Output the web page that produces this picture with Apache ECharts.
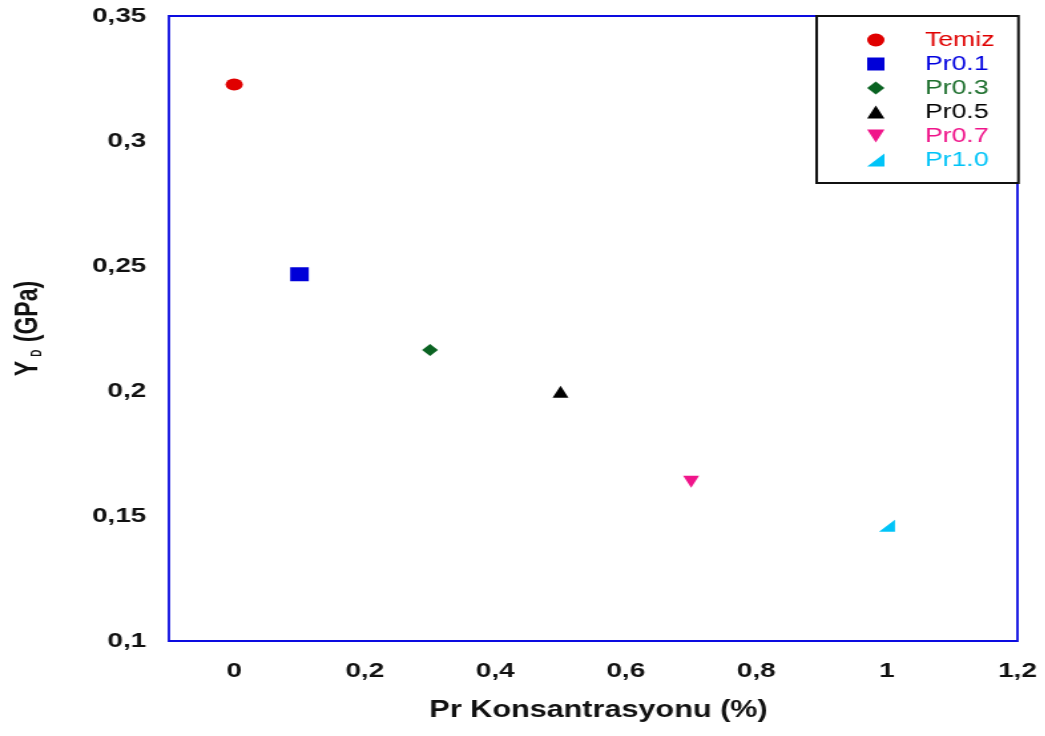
<!DOCTYPE html>
<html>
<head>
<meta charset="utf-8">
<script src="https://cdn.jsdelivr.net/npm/echarts@6/dist/echarts.min.js"></script>
<style>
  html, body { margin: 0; padding: 0; background: #fff; overflow: hidden; }
  /* chart is laid out narrower and widened horizontally, giving the wide glyph look */
  #chart { width: 786px; height: 736px; transform: scaleX(1.33); transform-origin: 0 0; }
</style>
</head>
<body>
<div id="chart"></div>
<script>
// Samples: Pr concentration (%) and Y_D (GPa)
const sampleNames = ['Temiz', 'Pr0.1', 'Pr0.3', 'Pr0.5', 'Pr0.7', 'Pr1.0'];
const prConcentration = [0, 0.1, 0.3, 0.5, 0.7, 1.0];
const yieldStress = [0.3226, 0.2467, 0.2164, 0.1997, 0.1637, 0.1461];

// Marker look per sample
const markerColors = ['#e00000', '#0000d8', '#0a6322', '#000000', '#f0148a', '#00c4f8'];
const textColors = ['#e00000', '#0000e0', '#1d6f2d', '#000000', '#f0148a', '#00c4f8'];
const markerShapes = [
  'circle',
  'path://M0,0 L10,0 L10,10 L0,10 Z',
  'path://M5,0 L10,5 L5,10 L0,5 Z',
  'path://M5,0 L10,10 L0,10 Z',
  'path://M0,0 L10,0 L5,10 Z',
  'path://M0,10 L10,0 L10,10 Z'
];
const markerSizes = [[13, 12], [14, 14], [12, 12], [12, 12], [12, 12], [12, 12]];

// Axis tick labels
const xTickValues = [0, 0.2, 0.4, 0.6, 0.8, 1, 1.2];
const yTickValues = [0.1, 0.15, 0.2, 0.25, 0.3, 0.35];

const fmt = v => String(Math.round(v * 100) / 100).replace('.', ',');
const FONT = 'Liberation Sans, Arial, sans-serif';

const chart = echarts.init(document.getElementById('chart'), null, { renderer: 'canvas' });

const series = sampleNames.map((name, i) => ({
  name: name,
  type: 'scatter',
  symbol: markerShapes[i],
  symbolSize: markerSizes[i],
  itemStyle: { color: markerColors[i], opacity: 1 },
  data: [[prConcentration[i], yieldStress[i]]],
  z: 3
}));

chart.setOption({
  animation: false,
  backgroundColor: '#ffffff',
  grid: {
    left: 127, right: 21, top: 16, bottom: 95,
    show: true, borderColor: '#0c0ce0', borderWidth: 1.8, backgroundColor: 'transparent'
  },
  legend: {
    orient: 'vertical',
    left: 614, top: 16,
    padding: [14, 18, 13, 38],
    itemWidth: 64, itemHeight: 13, itemGap: 4,
    borderColor: '#111111', borderWidth: 2, backgroundColor: '#ffffff',
    textStyle: { fontFamily: FONT, fontSize: 20, lineHeight: 20 },
    data: sampleNames.map((name, i) => ({ name: name, textStyle: { color: textColors[i] } })),
    selectedMode: false
  },
  xAxis: {
    type: 'value',
    min: -0.1, max: 1.2, interval: 0.1,
    name: 'Pr Konsantrasyonu (%)',
    nameLocation: 'middle', nameGap: 58,
    nameTextStyle: { fontFamily: FONT, fontWeight: 'bold', fontSize: 23, color: '#111', padding: [0, 0, 0, 8] },
    axisLine: { show: false },
    axisTick: { show: false },
    splitLine: { show: false },
    axisLabel: {
      margin: 20,
      fontFamily: FONT, fontWeight: 'bold', fontSize: 21, color: '#111',
      showMinLabel: true, showMaxLabel: true,
      formatter: v => xTickValues.some(t => Math.abs(t - v) < 1e-6) ? fmt(v) : ''
    }
  },
  yAxis: {
    type: 'value',
    min: 0.1, max: 0.35, interval: 0.05,
    name: '{y|Y}{sub|D}{y| (GPa)}',
    nameLocation: 'middle', nameGap: 94, nameRotate: 90,
    nameTextStyle: {
      rich: {
        y: { fontFamily: FONT, fontWeight: 'bold', fontSize: 23, color: '#111' },
        sub: { fontFamily: FONT, fontWeight: 'bold', fontSize: 10, color: '#111', padding: [13, 1, 0, 4] }
      }
    },
    axisLine: { show: false },
    axisTick: { show: false },
    splitLine: { show: false },
    axisLabel: {
      margin: 17,
      fontFamily: FONT, fontWeight: 'bold', fontSize: 21, color: '#111',
      formatter: v => yTickValues.some(t => Math.abs(t - v) < 1e-6) ? fmt(v) : ''
    }
  },
  series: series
});
</script>
</body>
</html>
